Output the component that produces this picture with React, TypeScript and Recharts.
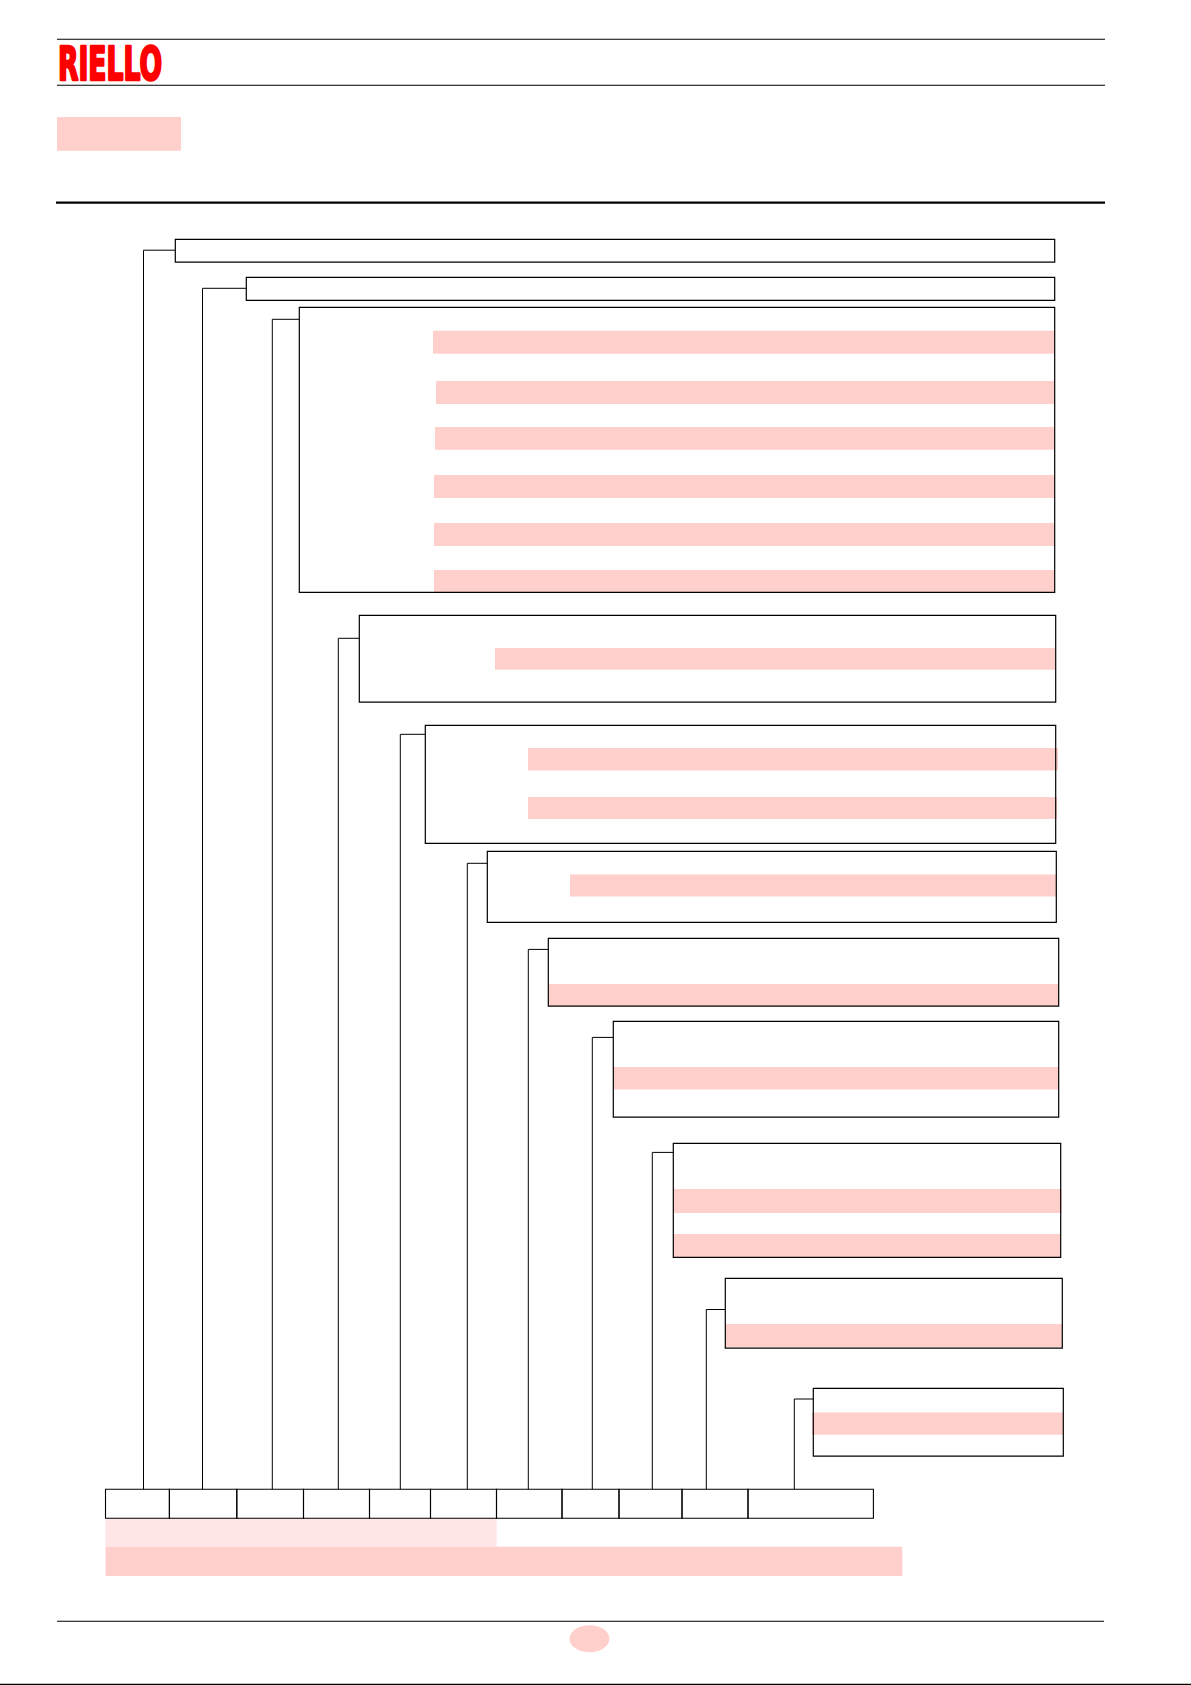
import { ComposedChart, XAxis, YAxis, Scatter, ReferenceArea, ReferenceLine, ReferenceDot } from 'recharts'

// page is laid out in its own units (1 unit = 1 px of the scanned sheet)
const PAGE_W = 1191
const PAGE_H = 1685

// designation boxes, top to bottom
const boxLeft = [175.3, 246.3, 299.3, 359.3, 425.3, 487.3, 548.3, 613.3, 673.3, 725.3, 813.3]
const boxRight = [1054.7, 1054.7, 1054.7, 1055.7, 1055.7, 1056.3, 1058.7, 1058.7, 1060.7, 1062.3, 1063.3]
const boxTop = [239.3, 277.4, 307.4, 615.4, 725.4, 851.4, 938.4, 1021.3, 1143.4, 1278.3, 1388.4]
const boxBottom = [262.2, 300.4, 592.3, 702.2, 843.3, 922.3, 1006.2, 1117.2, 1257.3, 1348.2, 1456.1]

// leader from each box down to the code row
const leaderX = [143.5, 202.5, 272.3, 338.3, 400.3, 467.3, 528.3, 592.3, 652.3, 706.3, 794.3]
const leaderY = [250.2, 288.3, 319.3, 638.3, 734.3, 863.3, 949.4, 1037.4, 1152.4, 1309.5, 1399]

// highlighted lines inside the boxes: [x1, x2, y1, y2]
const highlights: [number, number, number, number][] = [
  [433, 1054, 330.8, 353.8],
  [436, 1054, 381, 404],
  [435, 1054, 427, 449.8],
  [434, 1054, 475, 498],
  [434, 1054, 523, 546],
  [434, 1054, 570, 592.3],
  [495, 1055.3, 648, 669.8],
  [528, 1058, 748, 770.6],
  [528, 1057, 797, 819],
  [570, 1056, 874.4, 896.6],
  [548.3, 1058.7, 984, 1006],
  [613.3, 1058, 1067, 1089.6],
  [673.3, 1061.7, 1189, 1213],
  [673.3, 1060, 1234, 1257],
  [725.3, 1062.3, 1324, 1347],
  [812, 1063, 1412.4, 1434.8],
]

// code row cells
const cellEdges = [105.5, 169.4, 236.8, 303.5, 369.5, 430.5, 496.5, 562, 619, 682, 748, 873.4]
const rowTop = 1489.3
const rowBottom = 1518.3

// page furniture
const ruleY = [39.3, 85.3]
const thickRuleY = 202.7
const footRuleY = 1621.2
const titleTag: [number, number, number, number] = [57, 181, 117, 150.7]
const footLight: [number, number, number, number] = [105.5, 496.7, 1518.3, 1546.7]
const footDark: [number, number, number, number] = [105.5, 902.3, 1546.7, 1576]
const pageMark = { x: 589.5, y: 1638.8 }

const PINK = '#ffcfcc'
const PINK_LIGHT = '#fee6e6'

const Hidden = () => <g />

export default function App() {
  const leaders = leaderX.map((lx, i) => [
    { x: boxLeft[i], y: leaderY[i] },
    { x: lx, y: leaderY[i] },
    { x: lx, y: rowTop },
  ])

  return (
    <div style={{ position: 'absolute', left: 0, top: 0, width: PAGE_W, height: PAGE_H, background: '#fff' }}>
      <ComposedChart width={PAGE_W} height={PAGE_H} margin={{ top: 0, right: 0, bottom: 0, left: 0 }}>
        <XAxis type="number" dataKey="x" domain={[0, PAGE_W]} hide allowDataOverflow />
        <YAxis type="number" dataKey="y" domain={[0, PAGE_H]} reversed hide allowDataOverflow />

        {/* header */}
        {ruleY.map(y => (
          <ReferenceLine key={y} segment={[{ x: 57, y }, { x: 1105, y }]} stroke="#000" strokeWidth={1.1} />
        ))}
        <ReferenceLine segment={[{ x: 56, y: thickRuleY }, { x: 1105, y: thickRuleY }]} stroke="#000" strokeWidth={2.2} />
        <ReferenceArea x1={titleTag[0]} x2={titleTag[1]} y1={titleTag[2]} y2={titleTag[3]} fill={PINK} fillOpacity={1} stroke="none" />
        <ReferenceDot
          x={58}
          y={79.5}
          r={1}
          shape={(p: any) => (
            <text
              x={p.cx}
              y={p.cy}
              fill="#ff0000"
              stroke="#ff0000"
              strokeWidth={2.4}
              strokeLinejoin="round"
              fontFamily="'DejaVu Sans Condensed', 'Liberation Sans Narrow', 'DejaVu Sans'"
              fontWeight="bold"
              fontSize={46}
              textLength={104}
              lengthAdjust="spacingAndGlyphs"
            >
              RIELLO
            </text>
          )}
        />

        {/* highlighted lines */}
        {highlights.map(([x1, x2, y1, y2], i) => (
          <ReferenceArea key={'h' + i} x1={x1} x2={x2} y1={y1} y2={y2} fill={PINK} fillOpacity={1} stroke="none" />
        ))}
        <ReferenceArea x1={footLight[0]} x2={footLight[1]} y1={footLight[2]} y2={footLight[3]} fill={PINK_LIGHT} fillOpacity={1} stroke="none" />
        <ReferenceArea x1={footDark[0]} x2={footDark[1]} y1={footDark[2]} y2={footDark[3]} fill={PINK} fillOpacity={1} stroke="none" />

        {/* boxes */}
        {boxLeft.map((x, i) => (
          <ReferenceArea
            key={'b' + i}
            x1={x}
            x2={boxRight[i]}
            y1={boxTop[i]}
            y2={boxBottom[i]}
            fill="none"
            fillOpacity={0}
            stroke="#000"
            strokeWidth={1.2}
          />
        ))}

        {/* code row */}
        {cellEdges.slice(0, -1).map((x, i) => (
          <ReferenceArea
            key={'c' + i}
            x1={x}
            x2={cellEdges[i + 1]}
            y1={rowTop}
            y2={rowBottom}
            fill="none"
            fillOpacity={0}
            stroke="#000"
            strokeWidth={1.1}
          />
        ))}

        {/* leaders */}
        {leaders.map((pts, i) => (
          <Scatter
            key={'l' + i}
            data={pts}
            line={{ stroke: '#000', strokeWidth: 1 }}
            shape={Hidden}
            legendType="none"
            isAnimationActive={false}
          />
        ))}

        {/* footer */}
        <ReferenceLine segment={[{ x: 57, y: footRuleY }, { x: 1104, y: footRuleY }]} stroke="#000" strokeWidth={1.1} />
        <ReferenceDot
          x={pageMark.x}
          y={pageMark.y}
          r={1}
          shape={(p: any) => <ellipse cx={p.cx} cy={p.cy} rx={20} ry={13.5} fill={PINK} />}
        />
        <ReferenceLine segment={[{ x: 0, y: 1684.3 }, { x: PAGE_W, y: 1684.3 }]} stroke="#000" strokeWidth={1.2} />
      </ComposedChart>
    </div>
  )
}
